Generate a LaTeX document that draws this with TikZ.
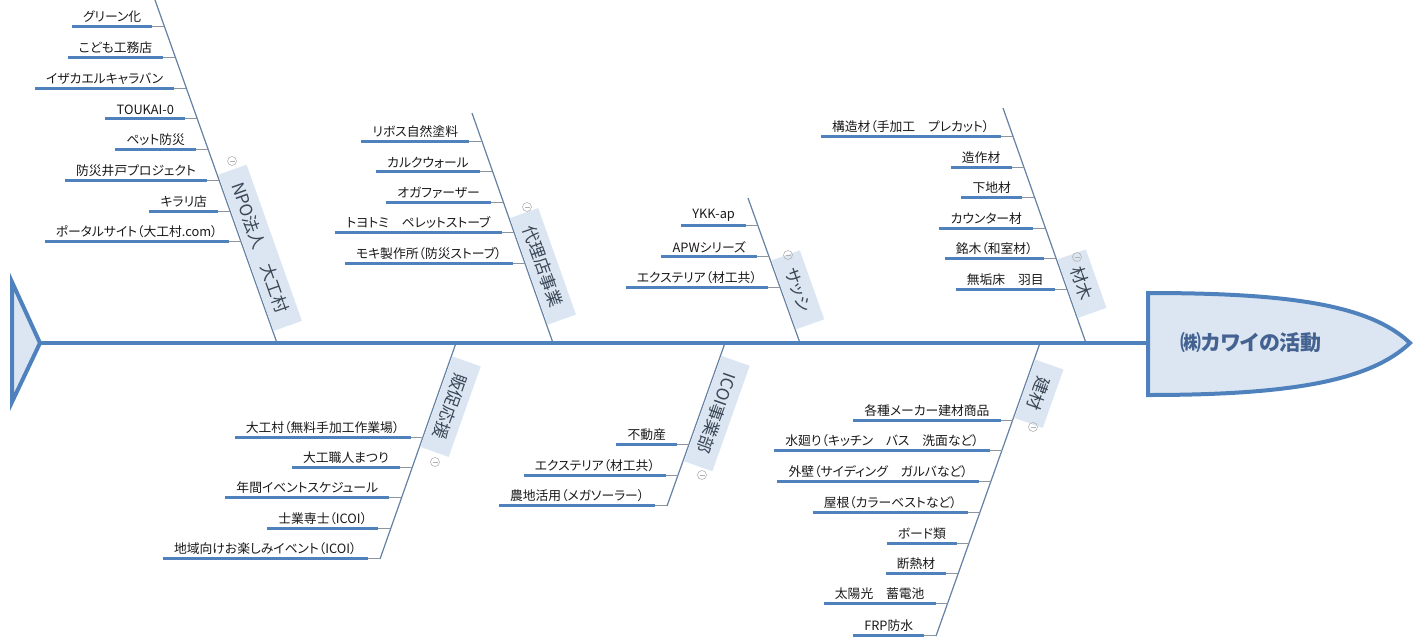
\documentclass[tikz,border=0pt]{standalone}
\usepackage{fontspec}
\setmainfont{Noto Sans CJK JP}[RawFeature=+palt]
\usetikzlibrary{calc}
\definecolor{spineblue}{RGB}{79,129,189}
\definecolor{boneblue}{RGB}{100,128,162}
\definecolor{boxfill}{RGB}{220,230,242}
\definecolor{linkgray}{RGB}{140,148,158}
\definecolor{labeltext}{RGB}{58,70,86}
\definecolor{headtext}{RGB}{68,98,145}
\tikzstyle{fishspine}=[line width=4pt, draw=spineblue]
\tikzstyle{fishtail}=[line width=4pt, draw=spineblue, fill=boxfill, line join=miter]
\tikzstyle{fishhead}=[line width=4pt, draw=spineblue, fill=boxfill, line join=miter]
\tikzstyle{headlabel}=[text=headtext, font=\fontsize{21}{25}\selectfont\bfseries]
\tikzstyle{bone}=[line width=1.2pt, draw=boneblue]
\tikzstyle{bonelabel}=[fill=boxfill, text=labeltext, inner xsep=14pt, inner ysep=5pt,
  minimum height=30pt, outer sep=1pt, anchor=south, font=\fontsize{17}{20}\selectfont]
\tikzstyle{twig}=[inner xsep=11pt, inner ysep=3pt, anchor=south east, text=black!90,
  font=\fontsize{12.8}{15}\selectfont]
\tikzstyle{twigbar}=[line width=3pt, draw=spineblue]
\tikzstyle{twiglink}=[line width=1pt, draw=linkgray]
\tikzstyle{foldmark}=[circle, draw=gray!60, line width=0.6pt, minimum size=9pt, inner sep=0pt,
  path picture={\draw[gray!60, line width=0.6pt] ([xshift=2pt]path picture bounding box.west)
    -- ([xshift=-2pt]path picture bounding box.east);}]

\begin{document}
\begin{tikzpicture}[x=1pt, y=-1pt]
  \path[use as bounding box] (0,0) rectangle (1422,640);

  % where the bones meet the spine
  \coordinate (npo-base) at (277,343);
  \coordinate (npo-top) at (155,0);
  \coordinate (dai-base) at (553,343);
  \coordinate (dai-top) at (472,113);
  \coordinate (sas-base) at (800,343);
  \coordinate (sas-top) at (748,198);
  \coordinate (zai-base) at (1086,343);
  \coordinate (zai-top) at (1003,108);
  \coordinate (han-base) at (456,343);
  \coordinate (han-end) at (380,559);
  \coordinate (ico-base) at (725,343);
  \coordinate (ico-end) at (667,506);
  \coordinate (ken-base) at (1040,343);
  \coordinate (ken-end) at (936,636);

  \draw[bone] (npo-base) -- (npo-top);
  \draw[bone] (dai-base) -- (dai-top);
  \draw[bone] (sas-base) -- (sas-top);
  \draw[bone] (zai-base) -- (zai-top);
  \draw[bone] (han-base) -- (han-end);
  \draw[bone] (ico-base) -- (ico-end);
  \draw[bone] (ken-base) -- (ken-end);

  % small twigs
  \foreach \b/\y/\t in {
      npo/26/グリーン化, npo/57/こども工務店, npo/88/イザカエルキャラバン,
      npo/118/TOUKAI-0, npo/149/ペット防災, npo/180/防災井戸プロジェクト,
      npo/211/キラリ店, npo/241/ポータルサイト（大工村.com）,
      dai/141/リボス自然塗料, dai/171/カルクウォール, dai/202/オガファーザー,
      dai/232/トヨトミ　ペレットストーブ, dai/263/モキ製作所（防災ストーブ）,
      sas/225/YKK-ap, sas/256/APWシリーズ, sas/287/エクステリア（材工共）,
      zai/136/構造材（手加工　プレカット）, zai/167/造作材, zai/197/下地材,
      zai/228/カウンター材, zai/258/銘木（和室材）, zai/289/無垢床　羽目,
      han/437/大工村（無料手加工作業場）, han/467/大工職人まつり,
      han/497/年間イベントスケジュール, han/528/士業専士（ICOI）,
      han/558/地域向けお楽しみイベント（ICOI）,
      ico/444/不動産, ico/475/エクステリア（材工共）, ico/505/農地活用（メガソーラー）,
      ken/420/各種メーカー建材商品, ken/450/水廻り（キッチン　バス　洗面など）,
      ken/481/外壁（サイディング　ガルバなど）, ken/512/屋根（カラーベストなど）,
      ken/543/ボード類, ken/573/断熱材, ken/603/太陽光　蓄電池, ken/635/FRP防水}{
    \coordinate (\b-p\y) at ($(\b-base)+({-0.355*abs(\y-343)},{\y-343})$);
    \node[twig] (\b-\y) at ([xshift=-12pt]\b-p\y) {\t};
    \draw[twigbar] (\b-\y.south west) -- (\b-\y.south east);
    \draw[twiglink] (\b-\y.south east) -- (\b-p\y);
  }

  % bone labels
  \node[bonelabel, rotate=-70.5] (npo) at ($(npo-base)!0.262!(npo-top)$) {NPO法人　大工村};
  \node[bonelabel, rotate=-70.5] (dai) at ($(dai-base)!0.31!(dai-top)$) {代理店事業};
  \node[bonelabel, rotate=-70.5] (sas) at ($(sas-base)!0.33!(sas-top)$) {サッシ};
  \node[bonelabel, rotate=-70.5] (zai) at ($(zai-base)!0.23!(zai-top)$) {材木};
  \node[bonelabel, rotate=-109.5] (han) at ($(han-base)!0.27!(han-end)$) {販促応援};
  \node[bonelabel, rotate=-109.5] (ico) at ($(ico-base)!0.40!(ico-end)$) {ICOI事業部};
  \node[bonelabel, rotate=-109.5] (ken) at ($(ken-base)!0.155!(ken-end)$) {建材};

  \node[foldmark] (npo-m) at (232,161) {};
  \node[foldmark] (dai-m) at (527,207) {};
  \node[foldmark] (sas-m) at (788,255) {};
  \node[foldmark] (zai-m) at (1077,257) {};
  \node[foldmark] (han-m) at (435,462) {};
  \node[foldmark] (ico-m) at (702,475) {};
  \node[foldmark] (ken-m) at (1033,427) {};

  % spine, tail and head
  \coordinate (tail) at (40,343);
  \coordinate (neck) at (1148,343);
  \draw[fishspine] (tail) -- (neck);
  \draw[fishtail] (12,282) -- (tail) -- (12,402) -- cycle;
  \draw[fishhead] (1148,293) .. controls (1290,293) and (1370,305) .. (1410,343)
    .. controls (1370,381) and (1290,395) .. (1148,395) -- cycle;
  \node[headlabel] (head) at (1251,343) {㈱カワイの活動};
\end{tikzpicture}
\end{document}
